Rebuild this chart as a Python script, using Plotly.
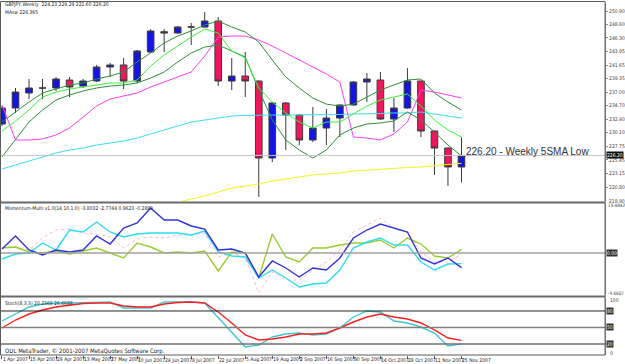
import plotly.graph_objects as go

W, H = 625, 364
PX_RIGHT = 608.0

bars = list(range(35))
date_labels = ["1 Apr 2007", "15 Apr 2007", "29 Apr 2007", "13 May 2007", "27 May 2007",
               "10 Jun 2007", "24 Jun 2007", "8 Jul 2007", "22 Jul 2007", "5 Aug 2007",
               "19 Aug 2007", "2 Sep 2007", "16 Sep 2007", "30 Sep 2007", "14 Oct 2007",
               "28 Oct 2007", "11 Nov 2007", "25 Nov 2007"]

opens = [231.58, 234.31, 236.88, 237.73, 237.73, 239.10, 238.07, 238.93, 241.32, 241.67,
         238.93, 243.89, 247.36, 247.14, 248.16, 248.16, 249.19, 238.93, 239.78, 238.93,
         225.76, 235.17, 233.11, 228.84, 230.89, 232.60, 234.83, 238.76, 239.10, 232.43,
         234.31, 238.93, 230.38, 227.47, 224.23]
highs = [234.65, 237.73, 239.27, 239.27, 239.61, 239.61, 239.27, 241.67, 242.01, 242.86,
         244.23, 247.82, 247.82, 248.33, 248.85, 250.73, 249.87, 242.86, 243.89, 239.00,
         235.25, 235.30, 233.20, 234.48, 234.14, 234.90, 238.93, 240.30, 240.47, 236.02,
         241.15, 239.00, 230.45, 227.55, 229.29]
lows = [231.23, 233.46, 235.85, 235.85, 237.22, 236.19, 237.73, 238.76, 239.61, 237.56,
        238.59, 243.72, 243.89, 246.97, 245.09, 248.10, 238.07, 237.39, 236.19, 219.09,
        225.08, 227.13, 227.98, 228.50, 227.98, 229.35, 234.70, 235.34, 232.26, 230.21,
        234.20, 229.35, 222.86, 220.97, 221.60]
closes = [234.31, 237.05, 237.73, 237.73, 239.27, 237.90, 238.93, 241.32, 241.67, 238.93,
          244.06, 247.48, 247.14, 248.16, 248.16, 249.19, 238.93, 239.78, 238.93, 225.76,
          235.17, 233.11, 228.84, 230.89, 232.60, 234.83, 238.76, 239.27, 232.43, 234.31,
          238.93, 230.38, 227.47, 224.23, 226.20]

sma_high = [231.92, 233.63, 235.34, 236.88, 237.56, 238.25, 238.59, 239.27, 239.78, 240.47,
            242.18, 243.72, 245.43, 246.62, 247.48, 248.51, 249.19, 248.16, 247.31, 245.60,
            242.52, 239.61, 237.73, 236.02, 234.98, 234.65, 234.98, 236.19, 237.39, 238.25,
            239.10, 239.27, 236.88, 235.34, 233.97]
sma_close = [230.38, 232.09, 233.97, 236.19, 237.05, 237.56, 237.90, 238.25, 238.59, 238.59,
             239.10, 241.49, 243.37, 244.91, 246.45, 247.82, 247.14, 244.06, 242.86, 237.73,
             235.34, 233.46, 231.92, 230.89, 231.92, 231.92, 233.29, 234.65, 235.68, 236.19,
             236.71, 234.65, 232.26, 230.55, 229.35]
sma_low = [225.93, 228.84, 231.92, 233.97, 235.68, 236.54, 237.22, 237.73, 238.07, 238.25,
           238.59, 239.44, 240.47, 242.18, 243.72, 244.74, 245.09, 244.06, 243.03, 237.39,
           232.26, 228.84, 227.13, 225.76, 227.13, 229.70, 230.89, 231.58, 231.75, 232.09,
           233.63, 232.26, 230.21, 227.98, 226.10]
ma_magenta = [234.82, 228.84, 228.84, 229.01, 229.70, 230.89, 232.77, 234.65, 235.85, 236.36,
              236.88, 237.90, 238.76, 239.61, 240.47, 243.20, 246.45, 246.62, 246.62, 245.94,
              244.91, 243.72, 242.52, 241.32, 240.13, 238.76, 229.35, 229.18, 228.84, 229.87,
              231.92, 237.39, 237.05, 236.54, 236.02]
ma_cyan = [223.88, 224.57, 225.25, 225.93, 226.62, 227.13, 227.47, 227.98, 228.33, 228.67,
           229.18, 229.87, 230.55, 231.23, 231.92, 232.26, 232.60, 232.94, 233.03, 233.11,
           233.11, 233.11, 233.11, 233.11, 233.11, 233.20, 233.29, 233.29, 233.37, 233.46,
           233.46, 233.63, 233.29, 232.94, 232.60]
ma_yellow_bars = list(range(12, 35))
ma_yellow = [217.72, 218.24, 218.75, 219.26, 219.95, 220.63, 220.97, 221.32, 221.83, 222.17,
             222.51, 222.86, 223.03, 223.20, 223.54, 223.71, 223.88, 224.05, 224.14, 224.22,
             224.48, 224.66, 224.86]

price_ticks = [250.90, 248.60, 246.30, 243.95, 241.65, 239.35, 237.00, 234.70, 232.40,
               230.10, 227.75, 225.45, 223.15, 220.80]
level_price = 226.20

mom_blue = [1.04, 4.42, 0.78, -0.52, 0.78, 0.26, 0.78, 4.42, 2.34, 6.50, 7.80, 11.70, 8.58,
            8.58, 7.02, 6.24, 0.78, 1.04, 0.00, -6.24, -2.08, -3.90, -6.24, -3.90, -4.42,
            -1.30, 3.90, 5.98, 7.54, 6.50, 5.46, -1.30, -2.86, -1.30, -3.80]
mom_cyan = [-1.56, -0.26, 0.00, 2.60, 0.78, 5.98, 5.46, 8.06, 5.46, 4.16, 4.94, 5.20, 5.20,
            5.20, 4.68, 5.72, 0.26, -0.78, -1.04, -6.50, -4.42, -6.50, -8.84, -8.06, -7.80,
            -4.42, 1.30, 2.86, 3.90, 2.08, 2.08, -2.34, -4.42, -2.86, -2.77]
mom_green = [1.30, 1.56, 0.26, 0.00, 0.52, -0.26, 0.52, 1.30, 0.00, -1.30, 2.60, 1.56, 0.00,
             0.26, 0.00, 0.52, -4.68, 0.26, 0.00, -6.50, 4.94, -1.04, -2.34, 1.30, 1.30,
             2.08, 2.60, 2.60, 3.38, 1.30, 3.90, 2.34, -0.78, -1.30, 0.96]
mom_pink = [1.56, 1.56, 0.78, 3.90, 5.98, 6.24, 5.20, 4.94, 4.16, 1.30, 3.64, 4.16, 3.90,
            4.68, 4.68, 5.20, -1.04, 0.00, -1.30, -10.40, -4.94, -7.02, -7.02, -4.42, -2.34,
            0.78, 5.46, 7.28, 9.10, 6.50, 5.46, 0.26, -2.34, -2.34, -0.29]

stoch_main = [61.8, 74.5, 87.3, 92.7, 94.5, 94.5, 94.5, 95.5, 96.4, 85.5, 85.5, 85.5, 96.4,
              96.4, 96.4, 94.5, 67.3, 41.8, 14.5, 18.2, 32.7, 38.2, 40.0, 36.4, 38.2, 49.1,
              69.1, 80.0, 78.2, 61.8, 58.2, 50.9, 40.0, 16.4, 20.24]
stoch_signal = [49.1, 63.6, 74.5, 81.8, 87.3, 90.9, 93.6, 94.5, 94.5, 89.1, 87.3, 87.3, 92.7,
                95.5, 96.4, 94.5, 78.2, 58.2, 36.4, 27.3, 29.1, 32.7, 38.2, 38.2, 40.0, 49.1,
                60.0, 69.1, 74.5, 69.1, 65.5, 58.2, 45.5, 30.9, 26.67]
stoch_levels = [80, 50, 20]


def py(px):
    """pixel row -> paper fraction"""
    return 1 - px / H


def px_x(px):
    return px / W


FONT = "Liberation Sans Narrow, DejaVu Sans Condensed, Liberation Sans"
fig = go.Figure()

# ---- main panel ----
fig.add_trace(go.Scatter(x=ma_yellow_bars, y=ma_yellow, mode="lines",
                         line=dict(color="#F5F51E", width=1), yaxis="y"))
fig.add_trace(go.Scatter(x=bars, y=ma_cyan, mode="lines",
                         line=dict(color="#3CDCF5", width=1), yaxis="y"))
fig.add_trace(go.Scatter(x=bars, y=ma_magenta, mode="lines",
                         line=dict(color="#FF40F0", width=1), yaxis="y"))
fig.add_trace(go.Scatter(x=bars, y=sma_low, mode="lines",
                         line=dict(color="#2F8F3A", width=1), yaxis="y"))
fig.add_trace(go.Scatter(x=bars, y=sma_high, mode="lines",
                         line=dict(color="#2F8F3A", width=1), yaxis="y"))
fig.add_trace(go.Scatter(x=bars, y=sma_close, mode="lines",
                         line=dict(color="#3CF03C", width=1), yaxis="y"))
fig.add_trace(go.Candlestick(
    x=bars, open=opens, high=highs, low=lows, close=closes, yaxis="y",
    increasing=dict(fillcolor="#1414E8", line=dict(color="#3A3A3A", width=1)),
    decreasing=dict(fillcolor="#F2145C", line=dict(color="#3A3A3A", width=1)),
    whiskerwidth=0, hoverinfo="skip"))

# ---- momentum panel ----
fig.add_trace(go.Scatter(x=bars, y=mom_pink, mode="lines",
                         line=dict(color="#FFB4C8", width=1, dash="dot"), yaxis="y2"))
fig.add_trace(go.Scatter(x=bars, y=mom_green, mode="lines",
                         line=dict(color="#9ACD32", width=1.4), yaxis="y2"))
fig.add_trace(go.Scatter(x=bars, y=mom_cyan, mode="lines",
                         line=dict(color="#2EDCF0", width=1.4), yaxis="y2"))
fig.add_trace(go.Scatter(x=bars, y=mom_blue, mode="lines",
                         line=dict(color="#3232DC", width=1.4), yaxis="y2"))

# ---- stochastic panel ----
fig.add_trace(go.Scatter(x=bars, y=stoch_main, mode="lines",
                         line=dict(color="#3CC8D2", width=1.4), yaxis="y3"))
fig.add_trace(go.Scatter(x=bars, y=stoch_signal, mode="lines",
                         line=dict(color="#FF1E1E", width=1.4), yaxis="y3"))

xr = [-2.0 / 13.58, (PX_RIGHT - 2.0) / 13.58]
dom_main = [py(201), py(3)]
dom_mom = [py(294), py(204)]
dom_sto = [py(355), py(298)]

tickfont = dict(family=FONT, size=5, color="#404040")
fig.update_layout(
    width=W, height=H, margin=dict(l=0, r=0, t=0, b=0),
    paper_bgcolor="white", plot_bgcolor="white", showlegend=False,
    xaxis=dict(domain=[0, px_x(PX_RIGHT)], range=xr, anchor="y3",
               showgrid=False, zeroline=False, showticklabels=False,
               tickmode="array", tickvals=bars[::2], ticks="outside", ticklen=3,
               tickcolor="#555", rangeslider=dict(visible=False)),
    yaxis=dict(domain=dom_main, range=[218.41, 252.27], side="right", anchor="x",
               showgrid=False, zeroline=False, showline=True, linecolor="#8C8C8C",
               tickmode="array", tickvals=price_ticks,
               ticktext=[f"{v:.2f}" for v in price_ticks], ticks="outside", ticklen=2,
               tickcolor="#8C8C8C", tickfont=tickfont),
    yaxis2=dict(domain=dom_mom, range=[-10.66, 12.74], side="right", anchor="x",
                showgrid=False, zeroline=False, showline=True, linecolor="#8C8C8C",
                showticklabels=False, ticks=""),
    yaxis3=dict(domain=dom_sto, range=[0, 103.6], side="right", anchor="x",
                showgrid=False, zeroline=False, showline=True, linecolor="#8C8C8C",
                showticklabels=False, ticks=""),
)

shapes = []
shapes.append(dict(type="line", xref="x domain", yref="y", x0=0, x1=1,
                   y0=level_price, y1=level_price, line=dict(color="#C4C4CC", width=1)))
shapes.append(dict(type="line", xref="x domain", yref="y2", x0=0, x1=1, y0=0, y1=0,
                   line=dict(color="#A0A0A0", width=1.5)))
lvl_colors = {80: "#202020", 50: "#808080", 20: "#707070"}
for lv in stoch_levels:
    shapes.append(dict(type="line", xref="x domain", yref="y3", x0=0, x1=1, y0=lv, y1=lv,
                       line=dict(color=lvl_colors[lv], width=1.5 if lv != 80 else 1)))
for row in (202.5, 296.5):
    shapes.append(dict(type="line", xref="paper", yref="paper", x0=0, x1=px_x(PX_RIGHT),
                       y0=py(row), y1=py(row), line=dict(color="#6A6A6A", width=2)))
shapes.append(dict(type="rect", xref="paper", yref="paper", x0=px_x(0.5), x1=px_x(PX_RIGHT),
                   y0=py(355), y1=py(1.5), line=dict(color="#5A5A5A", width=1)))
fig.update_layout(shapes=shapes)

ann = []
small = dict(family=FONT, size=5, color="#202020")
ann.append(dict(xref="paper", yref="paper", x=px_x(3), y=py(5), xanchor="left",
                yanchor="middle", showarrow=False, font=small,
                text="GBPJPY,Weekly  224.23 229.29 221.60 226.20"))
ann.append(dict(xref="paper", yref="paper", x=px_x(3), y=py(11.5), xanchor="left",
                yanchor="middle", showarrow=False, font=small, text="MAsw 226.365"))
ann.append(dict(xref="paper", yref="paper", x=px_x(3), y=py(208), xanchor="left",
                yanchor="middle", showarrow=False, font=small,
                text="Momentum-Multi v1.0(14,10,1.0) -3.8032 -2.7744 0.9623 -0.2880"))
ann.append(dict(xref="paper", yref="paper", x=px_x(3), y=py(302.5), xanchor="left",
                yanchor="middle", showarrow=False, font=small,
                text="Stoch(8,3,3) 20.2369 26.6689"))
ann.append(dict(xref="paper", yref="paper", x=px_x(3), y=py(351), xanchor="left",
                yanchor="middle", showarrow=False,
                font=dict(family=FONT, size=6, color="#202020"),
                text="ODL MetaTrader, © 2001-2007 MetaQuotes Software Corp."))
ann.append(dict(xref="x", yref="y", x=34.2, y=226.96, xanchor="left", yanchor="middle",
                showarrow=False, text="226.20 - Weekly 5SMA Low",
                font=dict(family="Liberation Sans", size=10, color="#333333")))
box_font = dict(family=FONT, size=5, color="white")
small_right = dict(family=FONT, size=4.6, color="#404040")
ann.append(dict(xref="paper", yref="y", x=px_x(609), y=level_price, xanchor="left",
                yanchor="middle", showarrow=False, text="226.20", font=box_font,
                bgcolor="#101010", borderpad=0))
ann.append(dict(xref="paper", yref="paper", x=px_x(610), y=py(200.5), xanchor="left",
                yanchor="middle", showarrow=False, text="218.90", font=tickfont))
ann.append(dict(xref="paper", yref="paper", x=px_x(609), y=py(205.5), xanchor="left",
                yanchor="middle", showarrow=False, text="15.4842", font=small_right))
ann.append(dict(xref="paper", yref="y2", x=px_x(609), y=0, xanchor="left",
                yanchor="middle", showarrow=False, text="0.00", font=box_font,
                bgcolor="#303030", borderpad=0))
ann.append(dict(xref="paper", yref="paper", x=px_x(609), y=py(293), xanchor="left",
                yanchor="middle", showarrow=False, text="-9.6607", font=small_right))
ann.append(dict(xref="paper", yref="y3", x=px_x(611), y=100, xanchor="left",
                yanchor="middle", showarrow=False, text="100", font=tickfont))
for lv in stoch_levels:
    ann.append(dict(xref="paper", yref="y3", x=px_x(609), y=lv, xanchor="left",
                    yanchor="middle", showarrow=False, text=str(lv), font=box_font,
                    bgcolor="#303030", borderpad=0))
ann.append(dict(xref="paper", yref="y3", x=px_x(611), y=3, xanchor="left",
                yanchor="middle", showarrow=False, text="0", font=tickfont))
for k, lab in enumerate(date_labels):
    ann.append(dict(xref="x", yref="paper", x=bars[2 * k] - 0.08, y=py(359.5), xanchor="left",
                    yanchor="middle", showarrow=False, text=lab, font=small))
fig.update_layout(annotations=ann)

fig.write_html("out.html")
